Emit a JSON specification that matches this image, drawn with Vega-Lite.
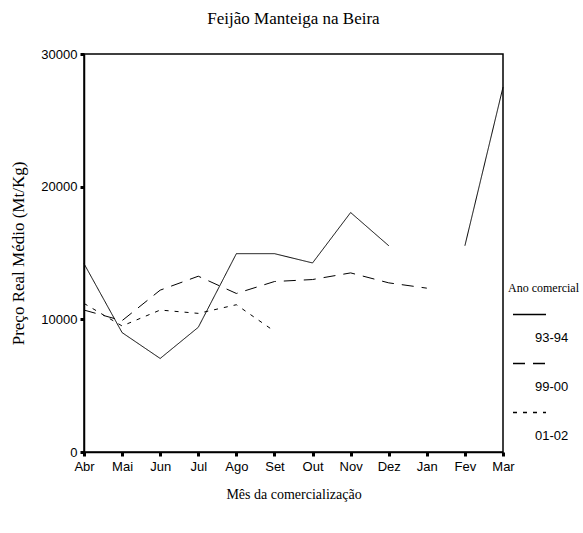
{
  "$schema": "https://vega.github.io/schema/vega-lite/v6.json",
  "autosize": {"type": "none"},
  "padding": {"left": 84, "top": 54, "right": 80, "bottom": 81},
  "width": 419,
  "height": 398,
  "background": "white",
  "title": {
    "text": "Feijão Manteiga na Beira",
    "font": "Liberation Serif",
    "fontSize": 17,
    "fontWeight": "normal",
    "color": "black",
    "offset": 20
  },
  "config": {
    "view": {"stroke": "black", "strokeWidth": 1.5},
    "axis": {
      "domainColor": "black",
      "domainWidth": 1.5,
      "tickColor": "black",
      "tickWidth": 3,
      "tickSize": 4,
      "labelColor": "black",
      "labelFont": "Liberation Sans",
      "labelFontSize": 13,
      "titleColor": "black",
      "titleFont": "Liberation Serif",
      "titleFontSize": 14,
      "titleFontWeight": "normal",
      "grid": false
    }
  },
  "data": {
    "values": [
      {"mes": "Abr", "i": 1, "ano": "93-94", "preco": 14200},
      {"mes": "Mai", "i": 2, "ano": "93-94", "preco": 9000},
      {"mes": "Jun", "i": 3, "ano": "93-94", "preco": 7050},
      {"mes": "Jul", "i": 4, "ano": "93-94", "preco": 9400},
      {"mes": "Ago", "i": 5, "ano": "93-94", "preco": 14950},
      {"mes": "Set", "i": 6, "ano": "93-94", "preco": 14950},
      {"mes": "Out", "i": 7, "ano": "93-94", "preco": 14250},
      {"mes": "Nov", "i": 8, "ano": "93-94", "preco": 18050},
      {"mes": "Dez", "i": 9, "ano": "93-94", "preco": 15550},
      {"mes": "Jan", "i": 10, "ano": "93-94", "preco": null},
      {"mes": "Fev", "i": 11, "ano": "93-94", "preco": 15550},
      {"mes": "Mar", "i": 12, "ano": "93-94", "preco": 27500},
      {"mes": "Abr", "i": 1, "ano": "99-00", "preco": 10700},
      {"mes": "Mai", "i": 2, "ano": "99-00", "preco": 9900},
      {"mes": "Jun", "i": 3, "ano": "99-00", "preco": 12200},
      {"mes": "Jul", "i": 4, "ano": "99-00", "preco": 13250},
      {"mes": "Ago", "i": 5, "ano": "99-00", "preco": 11950},
      {"mes": "Set", "i": 6, "ano": "99-00", "preco": 12850},
      {"mes": "Out", "i": 7, "ano": "99-00", "preco": 13000},
      {"mes": "Nov", "i": 8, "ano": "99-00", "preco": 13500},
      {"mes": "Dez", "i": 9, "ano": "99-00", "preco": 12750},
      {"mes": "Jan", "i": 10, "ano": "99-00", "preco": 12350},
      {"mes": "Abr", "i": 1, "ano": "01-02", "preco": 11200},
      {"mes": "Mai", "i": 2, "ano": "01-02", "preco": 9500},
      {"mes": "Jun", "i": 3, "ano": "01-02", "preco": 10700},
      {"mes": "Jul", "i": 4, "ano": "01-02", "preco": 10450},
      {"mes": "Ago", "i": 5, "ano": "01-02", "preco": 11100},
      {"mes": "Set", "i": 6, "ano": "01-02", "preco": 9100}
    ]
  },
  "mark": {"type": "line", "color": "black", "strokeWidth": 1, "invalid": "break-paths-show-domains"},
  "encoding": {
    "x": {
      "field": "mes",
      "type": "ordinal",
      "sort": ["Abr", "Mai", "Jun", "Jul", "Ago", "Set", "Out", "Nov", "Dez", "Jan", "Fev", "Mar"],
      "scale": {"type": "point", "padding": 0},
      "axis": {"title": "Mês da comercialização", "labelAngle": 0, "labelPadding": 4, "titlePadding": 14}
    },
    "y": {
      "field": "preco",
      "type": "quantitative",
      "scale": {"domain": [0, 30000], "nice": false, "zero": true},
      "axis": {"title": "Preço Real Médio (Mt/Kg)", "values": [0, 10000, 20000, 30000], "format": "d", "labelPadding": 3, "titlePadding": 13, "titleFontSize": 17}
    },
    "order": {"field": "i", "type": "quantitative"},
    "strokeDash": {
      "field": "ano",
      "type": "nominal",
      "scale": {"domain": ["93-94", "99-00", "01-02"], "range": [[1, 0], [12, 8], [4, 6]]},
      "legend": {
        "orient": "none",
        "legendX": 424,
        "legendY": 229,
        "padding": 0,
        "title": "Ano comercial",
        "titleFont": "Liberation Serif",
        "titleFontSize": 12,
        "titleFontWeight": "normal",
        "titleColor": "black",
        "titlePadding": 2,
        "symbolType": "M-1,0H1",
        "symbolSize": 1089,
        "symbolStrokeWidth": 1.5,
        "symbolStrokeColor": "black",
        "symbolOffset": 4,
        "labelFont": "Liberation Sans",
        "labelFontSize": 13,
        "labelColor": "black",
        "labelOffset": -12,
        "rowPadding": 1,
        "encoding": {
          "labels": {"dy": {"value": 23}},
          "symbols": {"size": {"value": 1089}, "shape": {"value": "M-1,0H1"}}
        }
      }
    }
  }
}
